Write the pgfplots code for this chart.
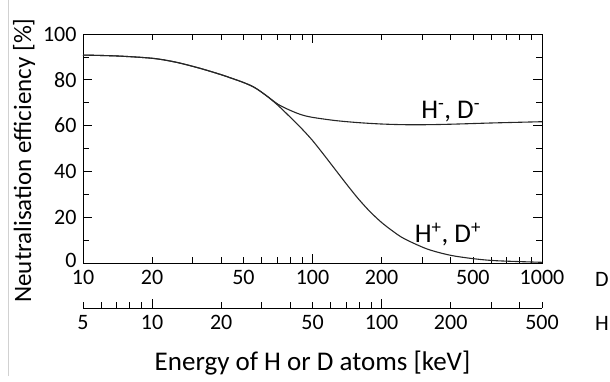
\documentclass[border=0pt]{standalone}
\usepackage{fontspec}
\setmainfont{Carlito}
\usepackage{pgfplots}
\pgfplotsset{compat=1.18}
\begin{document}
\fontsize{22}{26}\selectfont
\begin{tikzpicture}
\path[use as bounding box] (-83pt,-118pt) rectangle (527pt,263pt);
\draw[black!18, line width=0.7pt] (-75pt,-113pt) -- (-75pt,263pt);
\begin{axis}[
  at={(0,0)}, anchor=south west,
  scale only axis, width=459pt, height=229pt,
  xmode=log, xmin=10, xmax=1000, ymin=0, ymax=100,
  /pgf/number format/assume math mode=true,
  tick align=inside,
  xtick={10,100,1000},
  xticklabels={10,100,1000},
  extra x ticks={20,50,200,500},
  extra x tick labels={20,50,200,500},
  extra x tick style={major tick length=6pt},
  minor xtick={30,40,60,70,80,90,300,400,600,700,800,900},
  ytick={0,20,40,60,80,100},
  yticklabels={\raisebox{5pt}{0},20,40,60,80,100},
  minor ytick={10,30,50,70,90},
  major tick length=9pt, minor tick length=6pt,
  every tick/.style={black, line width=0.8pt},
  axis line style={line width=1pt},
  tick label style={font=\fontsize{22}{26}\selectfont},
  yticklabel style={xshift=1pt},
  clip=false,
]
\addplot[smooth, line width=1.1pt, color=black!85] coordinates {
(10,90.8) (14.1,90.4) (20,89.4) (25.1,87.8) (31.6,85.3) (39.8,82.3) (50.1,78.8) (56.2,76.5)
(63.1,73) (70.8,68.8) (79.4,64) (89.1,59) (100,53.5) (112.2,47.2) (125.9,40.7) (141.3,34.2)
(158.5,28) (177.8,22.5) (199.5,17.8) (223.9,13.9) (251.2,10.6) (316.2,6.1) (398.1,3.4)
(501.2,1.9) (631,1.0) (1000,0.3)};
\addplot[smooth, line width=1.1pt, color=black!85] coordinates {
(10,90.8) (14.1,90.4) (20,89.4) (25.1,87.8) (31.6,85.3) (39.8,82.3) (50.1,78.8) (56.2,76.5)
(63.1,73) (70.8,69.3) (79.4,66.8) (89.1,64.8) (100,63.6) (125.9,62.2) (158.5,61.3)
(199.5,60.7) (251.2,60.4) (316.2,60.4) (398.1,60.6) (501.2,60.9) (631,61.2) (1000,61.7)};
\node[font=\fontsize{27}{30}\selectfont] at (axis cs:400,66) {H\textsuperscript{-}, D\textsuperscript{-}};
\node[font=\fontsize{27}{30}\selectfont] at (axis cs:389,12.5) {H\textsuperscript{+}, D\textsuperscript{+}};
\path (rel axis cs:1,0) ++(60pt,-16pt) node[font=\fontsize{22}{26}\selectfont] {D};
\path (rel axis cs:1,0) ++(60pt,-60pt) node[font=\fontsize{22}{26}\selectfont] {H};
\path (rel axis cs:0.5,0) ++(0pt,-100pt) node[font=\fontsize{27}{30}\selectfont] {Energy of H or D atoms [keV]};
\path (rel axis cs:0,0.5) ++(-59pt,-12pt) node[rotate=90, font=\fontsize{25}{28}\selectfont] {Neutralisation efficiency [\%]};
\end{axis}
\begin{axis}[
  at={(0,-45pt)}, anchor=south west,
  scale only axis, width=459pt, height=10pt,
  xmode=log, xmin=5, xmax=500, ymin=0, ymax=1,
  axis x line=bottom, axis y line=none,
  x axis line style={-, line width=1pt},
  /pgf/number format/assume math mode=true,
  tick align=inside,
  xtick={10,100},
  xticklabels={10,100},
  extra x ticks={5,20,50,200,500},
  extra x tick labels={5,20,50,200,500},
  extra x tick style={major tick length=6pt},
  minor xtick={6,7,8,9,30,40,60,70,80,90,300,400},
  major tick length=9pt, minor tick length=6pt,
  every tick/.style={black, line width=0.8pt},
  tick label style={font=\fontsize{22}{26}\selectfont},
]
\addplot[draw=none] coordinates {(5,0) (500,0)};
\end{axis}
\end{tikzpicture}
\end{document}
